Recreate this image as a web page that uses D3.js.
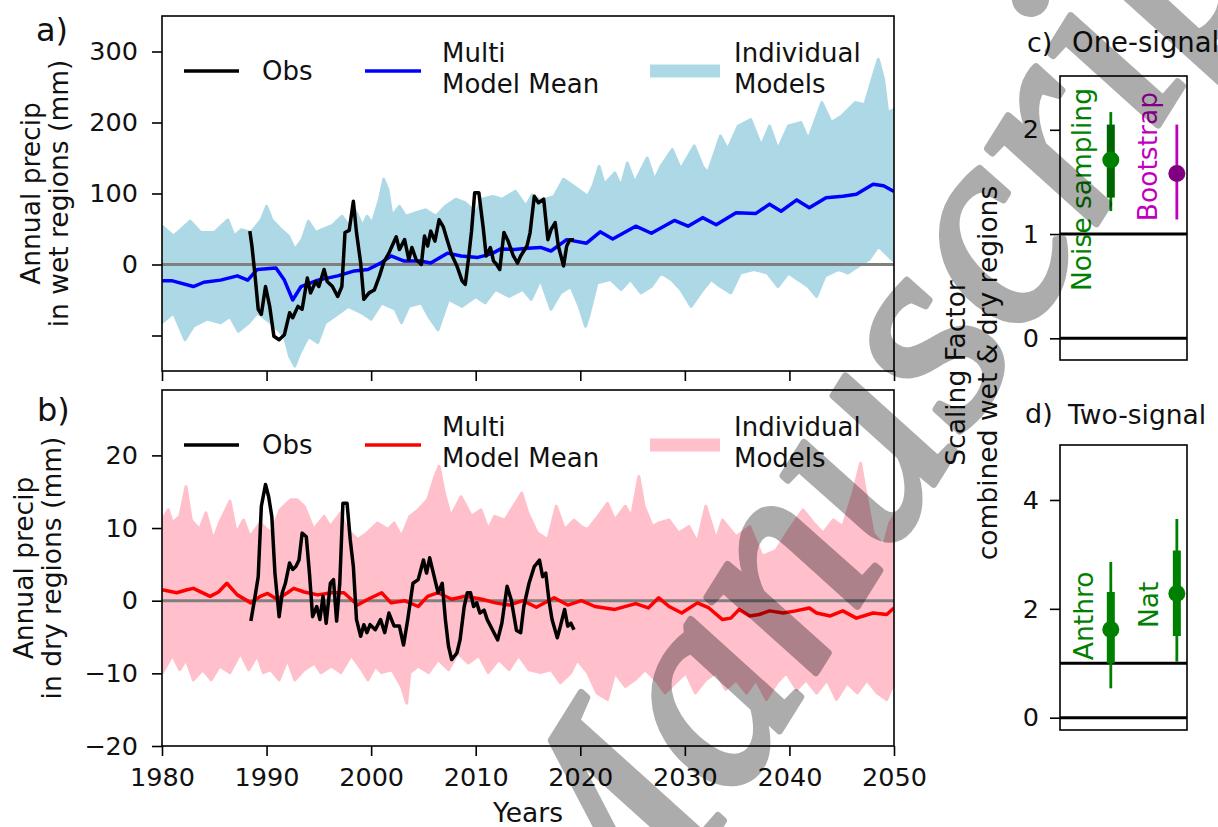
<!DOCTYPE html>
<html><head><meta charset="utf-8">
<script src="https://cdn.jsdelivr.net/npm/d3@7/dist/d3.min.js"></script>
<style>html,body{margin:0;padding:0;background:#fff;} svg{display:block;}</style>
</head><body>
<script>
// ---------------- DATA ----------------
const xTicks = [1980, 1990, 2000, 2010, 2020, 2030, 2040, 2050];
const wetTicks = [-100, 0, 100, 200, 300];
const wetTickLabels = ["", "0", "100", "200", "300"];
const dryTicks = [-20, -10, 0, 10, 20];
const dryTickLabels = ["\u221220", "\u221210", "0", "10", "20"];
const oneTicks = [0, 1, 2];
const twoTicks = [0, 2, 4];

// observed wet-region precip anomaly [year, mm]
const obsWet = [[1988.4,47],[1988.6,26],[1988.9,-16],[1989.2,-63],[1989.5,-70],[1989.9,-31],[1990.3,-59],[1990.7,-101],[1991.2,-106],[1991.7,-99],[1992.2,-68],[1992.5,-75],[1993.0,-59],[1993.4,-63],[1993.9,-19],[1994.2,-40],[1994.7,-24],[1995.0,-31],[1995.5,-7],[1995.8,-24],[1996.3,-31],[1996.8,-45],[1997.2,-31],[1997.5,45],[1997.9,48],[1998.3,89],[1998.6,45],[1999.0,2],[1999.3,-49],[1999.8,-40],[2000.3,-36],[2000.8,-16],[2001.2,3],[2001.7,16],[2002.0,26],[2002.4,39],[2002.7,21],[2003.2,35],[2003.6,7],[2003.9,24],[2004.3,7],[2004.8,0],[2005.1,40],[2005.4,26],[2005.7,47],[2006.1,33],[2006.5,63],[2006.9,53],[2007.3,33],[2007.7,14],[2008.2,-2],[2008.7,-23],[2009.0,-28],[2009.3,7],[2009.6,47],[2009.9,101],[2010.3,101],[2010.7,54],[2011.0,12],[2011.4,24],[2011.7,5],[2012.0,0],[2012.3,-7],[2012.7,45],[2013.1,33],[2013.6,12],[2014.0,2],[2014.3,12],[2014.9,26],[2015.2,45],[2015.6,96],[2016.0,87],[2016.5,92],[2016.9,35],[2017.2,49],[2017.6,59],[2017.9,26],[2018.4,-2],[2018.7,26],[2019.0,35],[2019.4,35]];
// multi model mean, wet regions
const mmmWet = [[1980,-23],[1981,-23],[1983,-31],[1984,-25],[1985.6,-22],[1987.2,-16],[1988.2,-22],[1989.1,-7],[1990.9,-5],[1991.7,-22],[1992.5,-50],[1993.3,-31],[1994.9,-22],[1996.8,-16],[1998.4,-9],[1999.7,-7],[2000.9,2],[2001.9,12],[2003.1,5],[2004.7,5],[2005.7,2],[2007.3,16],[2008.6,12],[2010.2,10],[2011.5,15],[2012.4,22],[2013.7,21],[2015,23],[2016.2,24],[2017.2,19],[2018.7,35],[2020.6,30],[2021.9,46],[2023.1,36],[2025.3,54],[2026.8,44],[2029,62],[2030.3,54],[2031.7,66],[2033,56],[2034.9,73],[2036.8,72],[2038.1,85],[2039.2,75],[2040.7,91],[2041.9,80],[2043.5,94],[2045.1,96],[2046.4,99],[2048,113],[2049,111],[2050,103]];
// individual models, wet regions: upper and lower edge of the model spread
const wetModelsHigh = [[1980,54],[1981.1,40],[1982.7,61],[1983.7,45],[1985,45],[1986.3,63],[1986.9,40],[1987.6,49],[1988.5,45],[1989.5,63],[1990,82],[1990.5,63],[1991.4,49],[1992.1,40],[1992.7,21],[1993.4,35],[1994,61],[1994.7,45],[1995.3,49],[1996.3,55],[1997.2,68],[1997.9,54],[1998.5,75],[1999.2,54],[1999.6,68],[2000.1,58],[2000.8,92],[2001.2,120],[2001.6,106],[2002,68],[2002.7,82],[2003.3,68],[2004.3,73],[2005.2,77],[2006.2,68],[2007.1,82],[2008.1,92],[2009,87],[2010,73],[2010.6,92],[2011.6,96],[2012.5,92],[2013.8,103],[2014.8,82],[2015.4,98],[2016.2,90],[2017.5,96],[2018.4,120],[2019.4,110],[2020.7,96],[2021.2,110],[2021.8,138],[2022.3,113],[2023.3,129],[2023.9,110],[2024.5,143],[2025.2,115],[2026.4,150],[2027.1,119],[2027.7,138],[2028.8,162],[2029.6,134],[2030.9,167],[2031.7,138],[2032.2,129],[2033.4,181],[2034.1,162],[2035.1,195],[2036.3,204],[2037.3,167],[2038.1,195],[2038.9,162],[2039.9,195],[2041.1,200],[2041.8,176],[2043.1,228],[2044,200],[2045,209],[2046.3,228],[2047.2,225],[2048,265],[2048.5,289],[2049,261],[2049.4,214],[2050,218]];
const wetModelsLow = [[1980,-82],[1981.1,-68],[1982.2,-106],[1983,-87],[1984.3,-77],[1985.6,-82],[1986.5,-73],[1987.3,-94],[1988.3,-82],[1989.1,-68],[1990.4,-82],[1991.7,-101],[1992.2,-129],[1992.7,-143],[1993.2,-124],[1994,-101],[1994.9,-110],[1995.6,-82],[1996.5,-73],[1997.8,-59],[1999.1,-68],[2000,-77],[2001,-54],[2002.3,-63],[2002.9,-82],[2003.6,-59],[2004.8,-54],[2005.5,-73],[2006.4,-92],[2007.4,-49],[2008.7,-59],[2010,-45],[2010.9,-54],[2011.9,-35],[2013.2,-45],[2014.5,-35],[2015.3,-49],[2016.2,-21],[2017.2,-63],[2018.1,-40],[2019.1,-31],[2019.9,-59],[2020.5,-87],[2020.8,-73],[2021.6,-26],[2022.9,-21],[2023.9,-35],[2024.8,-21],[2025.8,-40],[2026.8,-31],[2027.7,-12],[2028.7,-21],[2029.6,-35],[2030.6,-59],[2031.5,-40],[2032.5,-21],[2033.4,-31],[2034.4,-40],[2035.3,-12],[2036.6,-7],[2037.9,-12],[2038.9,-31],[2039.9,-12],[2040.8,-21],[2041.8,-31],[2042.6,-45],[2043.4,-16],[2044.7,-7],[2045.6,-12],[2046.6,-2],[2047.6,7],[2048.5,26],[2049.2,16],[2049.8,7],[2050,5]];

// observed dry-region precip anomaly [year, mm]
const obsDry = [[1988.5,-2.8],[1988.9,0.6],[1989.2,3.3],[1989.5,13],[1989.9,16],[1990.2,14.3],[1990.5,11.6],[1990.8,3.8],[1991.2,-2.2],[1991.5,1.1],[1991.8,2.4],[1992.2,5.2],[1992.5,4.3],[1992.8,4.7],[1993.1,5.6],[1993.4,9.3],[1993.8,8.8],[1994.1,3.8],[1994.4,-2.2],[1994.8,-0.8],[1995.1,-2.6],[1995.4,0.6],[1995.7,-3.1],[1996.1,2.4],[1996.4,2.9],[1996.7,-2.8],[1997,2.4],[1997.3,13.4],[1997.7,13.4],[1998,8.4],[1998.3,4.7],[1998.6,-2.6],[1999,-4.9],[1999.3,-3.3],[1999.6,-4.4],[1999.9,-3.3],[2000.4,-4],[2000.9,-2.6],[2001.3,-4.4],[2001.7,-1.7],[2002.2,-3.5],[2002.7,-3.5],[2003.1,-6.1],[2003.5,-2.6],[2004,2.4],[2004.5,2.9],[2005,5.6],[2005.3,3.8],[2005.6,5.9],[2006.1,2.9],[2006.4,1.1],[2006.8,2.4],[2007.1,-2.6],[2007.4,-6.3],[2007.7,-8.1],[2008.2,-7.2],[2008.5,-5.4],[2008.9,-0.8],[2009.2,1.1],[2009.5,1.1],[2009.8,-0.8],[2010.1,-0.3],[2010.4,-1.7],[2010.8,-1.3],[2011.1,-2.6],[2011.6,-4],[2012.1,-5.4],[2012.5,-3.1],[2013,2],[2013.4,0.1],[2013.9,-4.1],[2014.3,-4.4],[2014.6,-0.8],[2015.1,2.4],[2015.6,4.7],[2016.1,5.6],[2016.4,3.3],[2016.7,3.8],[2017,0.1],[2017.3,-2.6],[2017.8,-5.1],[2018.1,-3.5],[2018.5,-1.2],[2018.8,-3.5],[2019.1,-3.1],[2019.4,-4]];
const mmmDry = [[1980,1.5],[1981.4,1.1],[1982.4,1.5],[1983,1.7],[1984.6,0.6],[1985.4,1.2],[1986.2,2.4],[1987.2,0.8],[1988.5,-0.3],[1989.4,0.6],[1990.1,1],[1991,0.2],[1992,1.1],[1992.6,1.7],[1993.6,1.2],[1994.9,0.8],[1996.2,1.1],[1997.4,1.1],[1998.7,-0.6],[1999.7,0.2],[2001,1.1],[2001.9,-0.3],[2003.2,0],[2004.5,-0.8],[2005.4,0.6],[2006.4,1.1],[2007.7,0.2],[2009,0.6],[2010.6,0.2],[2011.9,-0.3],[2013.2,-0.6],[2014.5,0],[2015.8,-0.9],[2017.5,0.4],[2018.8,-0.6],[2020.1,0],[2021.4,-0.8],[2023.3,-1.2],[2025.3,-0.4],[2026.5,-1],[2027.5,0.4],[2028.5,-0.8],[2029.7,-1.7],[2031.2,-0.3],[2032.3,-1],[2033.6,-2.6],[2034.4,-2.4],[2035.2,-1.2],[2036.2,-2.1],[2037.1,-1.9],[2038.1,-1.4],[2039.4,-1.7],[2040.6,-1.4],[2041.9,-1],[2042.6,-1.7],[2043.9,-2.1],[2045.1,-1.4],[2046.4,-2.4],[2048,-1.7],[2049.3,-1.9],[2050,-1]];
const dryModelsHigh = [[1980,11.1],[1980.6,12.5],[1981,10.7],[1981.7,11.6],[1982.3,15.7],[1982.8,11.1],[1983.6,9.8],[1984.2,12.1],[1984.9,8.4],[1985.5,10.7],[1986.5,13.7],[1987.1,9.3],[1987.8,11.1],[1988.4,8.8],[1989.4,10.7],[1990.4,9.3],[1991.3,12.5],[1992.3,13.9],[1992.9,13.9],[1993.6,13],[1994.5,9.8],[1995.5,11.6],[1996.1,10.2],[1997.1,12.1],[1997.7,9.8],[1998.7,8.4],[1999.6,9.3],[2000.6,10.7],[2001.6,9.8],[2002.2,10.7],[2002.9,8.8],[2003.7,11.6],[2004.5,12.5],[2005.4,13.9],[2006.1,17.1],[2006.5,18.5],[2007,14.8],[2007.6,11.6],[2008.6,14.3],[2009.6,11.6],[2010.5,12.5],[2011.2,9.8],[2011.8,11.6],[2012.8,11.1],[2013.4,12.5],[2014.4,14.8],[2015,12],[2015.9,9.3],[2016.9,8.4],[2017.7,13],[2018.5,9.8],[2019.4,11.1],[2020.1,10.2],[2020.7,9.8],[2021.7,11.6],[2022.6,13.4],[2023.3,11.1],[2024.3,13],[2024.9,11.6],[2025.6,17.1],[2026.1,13],[2026.9,10.2],[2027.5,10.7],[2028.5,11.1],[2029.4,9.3],[2030.4,10.2],[2031.2,8],[2032,13],[2033,8.4],[2033.6,11.1],[2034.9,8.8],[2036.2,10.2],[2037.4,6.1],[2038.7,6.9],[2040,9.8],[2041.3,12.5],[2042.3,10.7],[2043.2,9.3],[2044.2,11.1],[2045.1,10.2],[2046.1,14.8],[2046.8,18.9],[2047.2,15.6],[2048,9.3],[2049,7.5],[2049.6,10.7],[2050,11.6]];
const dryModelsLow = [[1980,-10],[1980.4,-9],[1981,-7.5],[1981.7,-9.5],[1982.3,-8.1],[1983,-10.9],[1983.9,-9.5],[1984.7,-10.9],[1985.5,-9],[1986.5,-9.9],[1987.5,-7.2],[1988.3,-9.5],[1989.1,-7.5],[1989.7,-9.9],[1990.4,-9.5],[1991.2,-10.9],[1992,-8.1],[1992.7,-10.9],[1993.6,-9.5],[1994.6,-8.6],[1995.2,-9.9],[1996.2,-9],[1997.1,-9.9],[1998.1,-7.5],[1999.1,-9.5],[1999.7,-10.9],[2000.4,-9],[2001,-9.9],[2002,-9.5],[2002.9,-11.8],[2003.4,-14.1],[2003.7,-9.9],[2004.5,-9],[2005.5,-9.9],[2006.4,-8.1],[2007.4,-9.5],[2008.3,-7.2],[2009.3,-8.6],[2010.3,-7.5],[2011.2,-9.9],[2012.2,-8.1],[2013.2,-9.5],[2014.1,-7.5],[2015.1,-9.5],[2016.2,-9.9],[2017.2,-9.5],[2018.1,-11.3],[2019.1,-9.9],[2019.7,-8.1],[2020.7,-9.9],[2021.6,-12.7],[2022.6,-13.6],[2023.3,-9.9],[2024.3,-11.8],[2025.2,-10.9],[2026.2,-9.5],[2027.2,-10.9],[2028.1,-12.7],[2029.1,-11.3],[2030.1,-9.9],[2031,-12.7],[2032,-10.9],[2033,-9.9],[2033.9,-12.2],[2034.9,-10.9],[2035.9,-12.7],[2036.8,-10.9],[2037.8,-13.6],[2038.8,-11.3],[2039.7,-9.9],[2040.7,-12.2],[2041.6,-10.9],[2042.6,-12.7],[2043.6,-10.9],[2044.5,-13.6],[2045.5,-11.3],[2046.5,-12.7],[2047.4,-10.9],[2048.4,-12.7],[2049.3,-13.6],[2050,-11.3]];

// scaling factors: [position, best, lo66, hi66, lo90, hi90]
const oneSignalNames = ["Noise sampling", "Bootstrap"];
const oneSignal = [[1.0, 1.71, 1.35, 2.05, 1.22, 2.17], [2.3, 1.58, null, null, 1.14, 2.05]];
const twoSignalNames = ["Anthro", "Nat"];
const twoSignal = [[1.0, 1.62, 1.0, 2.31, 0.54, 2.86], [2.3, 2.28, 1.5, 3.07, 1.03, 3.65]];

// ---------------- DRAWING ----------------
const FONT = "DejaVu Sans";
const TICK_FS = 25.5, LEG_FS = 26, LAB_FS = 26.5;
const W = 1218, H = 827;
const svg = d3.select("body").append("svg").attr("width", W).attr("height", H);
svg.append("rect").attr("width", W).attr("height", H).attr("fill", "#fff");

const x = d3.scaleLinear().domain([1980, 2050]).range([162, 894]);
const yWet = d3.scaleLinear().domain([-150, 350]).range([371, 16]);
const yDry = d3.scaleLinear().domain([-20, 29]).range([746, 390]);

function styleAxis(g, fs) {
  g.select(".domain").remove();
  g.selectAll(".tick line").attr("stroke", "#000").attr("stroke-width", 1.6);
  g.selectAll(".tick text").attr("font-family", FONT).attr("font-size", fs).attr("fill", "#111");
}

function drawPanel(y, modelsHigh, modelsLow, mmm, obs, bandColor, mmmColor, yTicks, yLabels, showX, clipId) {
  const top = y.range()[1], bot = y.range()[0];
  svg.append("clipPath").attr("id", clipId).append("rect")
    .attr("x", 162).attr("y", top).attr("width", 894 - 162).attr("height", bot - top);
  const g = svg.append("g").attr("clip-path", `url(#${clipId})`);
  const years = Array.from(new Set(modelsHigh.map(d => d[0]).concat(modelsLow.map(d => d[0])))).sort((a, b) => a - b);
  const interp = (arr, t) => {
    const i = d3.bisector(d => d[0]).left(arr, t);
    if (i <= 0) return arr[0][1];
    if (i >= arr.length) return arr[arr.length - 1][1];
    const a = arr[i - 1], b = arr[i];
    return a[1] + (b[1] - a[1]) * (t - a[0]) / (b[0] - a[0]);
  };
  const area = d3.area().x(t => x(t)).y0(t => y(interp(modelsLow, t))).y1(t => y(interp(modelsHigh, t)));
  g.append("path").attr("d", area(years)).attr("fill", bandColor)
    .attr("stroke", bandColor).attr("stroke-width", 3).attr("stroke-linejoin", "round");
  g.append("line").attr("x1", x(1980)).attr("x2", x(2050)).attr("y1", y(0)).attr("y2", y(0))
    .attr("stroke", "#808080").attr("stroke-width", 3);
  const line = d3.line().x(d => x(d[0])).y(d => y(d[1]));
  g.append("path").attr("d", line(mmm)).attr("fill", "none").attr("stroke", mmmColor)
    .attr("stroke-width", 3.5).attr("stroke-linejoin", "round");
  g.append("path").attr("d", line(obs)).attr("fill", "none").attr("stroke", "#000")
    .attr("stroke-width", 3.5).attr("stroke-linejoin", "round");
  svg.append("rect").attr("x", 162).attr("y", top).attr("width", 894 - 162).attr("height", bot - top)
    .attr("fill", "none").attr("stroke", "#000").attr("stroke-width", 1.6);
  const ya = svg.append("g").attr("transform", "translate(162,0)")
    .call(d3.axisLeft(y).tickValues(yTicks).tickSize(10).tickPadding(14).tickFormat((d, i) => yLabels[i]));
  styleAxis(ya, TICK_FS);
  const xa = svg.append("g").attr("transform", `translate(0,${bot})`)
    .call(d3.axisBottom(x).tickValues(xTicks).tickSize(10).tickPadding(12).tickFormat(showX ? d3.format("d") : () => ""));
  styleAxis(xa, TICK_FS);
}

drawPanel(yWet, wetModelsHigh, wetModelsLow, mmmWet, obsWet, "#add8e6", "#0000ff", wetTicks, wetTickLabels, false, "clipA");
drawPanel(yDry, dryModelsHigh, dryModelsLow, mmmDry, obsDry, "#ffc0cb", "#ff0000", dryTicks, dryTickLabels, true, "clipB");

function legend(top, mmmColor, bandColor) {
  const g = svg.append("g").attr("font-family", FONT).attr("font-size", LEG_FS).attr("fill", "#111");
  g.append("line").attr("x1", 184).attr("x2", 239).attr("y1", top + 55).attr("y2", top + 55).attr("stroke", "#000").attr("stroke-width", 3.5);
  g.append("text").attr("x", 262).attr("y", top + 63.5).text("Obs");
  g.append("line").attr("x1", 365).attr("x2", 421).attr("y1", top + 55).attr("y2", top + 55).attr("stroke", mmmColor).attr("stroke-width", 3.5);
  g.append("text").attr("x", 442).attr("y", top + 46).text("Multi");
  g.append("text").attr("x", 442).attr("y", top + 77).text("Model Mean");
  g.append("rect").attr("x", 650).attr("y", top + 48.5).attr("width", 70).attr("height", 13).attr("fill", bandColor);
  g.append("text").attr("x", 734).attr("y", top + 46).text("Individual");
  g.append("text").attr("x", 734).attr("y", top + 77).text("Models");
}
legend(16, "#0000ff", "#add8e6");
legend(390, "#ff0000", "#ffc0cb");

const lab = (t, xx, yy, fs, anchor, rot, color) => {
  const tx = svg.append("text").attr("font-family", FONT).attr("font-size", fs)
    .attr("fill", color || "#111").attr("text-anchor", anchor || "start").text(t);
  if (rot) tx.attr("transform", `translate(${xx},${yy}) rotate(${rot})`);
  else tx.attr("x", xx).attr("y", yy);
  return tx;
};
lab("a)", 36, 41, 32);
lab("b)", 37, 421, 32);
lab("Annual precip", 40, 193.5, LAB_FS, "middle", -90);
lab("in wet regions (mm)", 68, 193.5, LAB_FS, "middle", -90);
lab("Annual precip", 32.5, 568, LAB_FS, "middle", -90);
lab("in dry regions (mm)", 61, 568, LAB_FS, "middle", -90);
lab("Years", 528, 822, LAB_FS, "middle");

// ---------------- scaling factor panels ----------------
const xs = d3.scaleLinear().domain([0, 2.5]).range([1060, 1187]);
const yOne = d3.scaleLinear().domain([-0.208, 2.516]).range([360, 76]);
const yTwo = d3.scaleLinear().domain([-0.226, 5.01]).range([730, 445]);

function sfPanel(y, ticks, data, colors66, colors90, dotColors) {
  const top = y.range()[1], bot = y.range()[0];
  [0, 1].forEach(v => svg.append("line").attr("x1", 1060).attr("x2", 1187).attr("y1", y(v)).attr("y2", y(v))
    .attr("stroke", "#000").attr("stroke-width", 3));
  data.forEach((d, i) => {
    const cx = xs(d[0]);
    svg.append("line").attr("x1", cx).attr("x2", cx).attr("y1", y(d[4])).attr("y2", y(d[5]))
      .attr("stroke", colors90[i]).attr("stroke-width", 2.8);
    if (d[2] !== null) svg.append("line").attr("x1", cx).attr("x2", cx).attr("y1", y(d[2])).attr("y2", y(d[3]))
      .attr("stroke", colors66[i]).attr("stroke-width", 8);
    svg.append("circle").attr("cx", cx).attr("cy", y(d[1])).attr("r", 8.5).attr("fill", dotColors[i]);
  });
  svg.append("rect").attr("x", 1060).attr("y", top).attr("width", 127).attr("height", bot - top)
    .attr("fill", "none").attr("stroke", "#000").attr("stroke-width", 1.6);
  const ya = svg.append("g").attr("transform", "translate(1060,0)")
    .call(d3.axisLeft(y).tickValues(ticks).tickSize(10).tickPadding(11).tickFormat(d3.format("d")));
  styleAxis(ya, TICK_FS);
}
sfPanel(yOne, oneTicks, oneSignal, ["#006400", null], ["#008000", "#bf00bf"], ["#008000", "#800080"]);
sfPanel(yTwo, twoTicks, twoSignal, ["#008000", "#008000"], ["#008000", "#008000"], ["#008000", "#008000"]);

lab(oneSignalNames[0], 1091, 88, LAB_FS, "end", -90, "#008000");
lab(oneSignalNames[1], 1156.5, 92, LAB_FS, "end", -90, "#bf00bf");
lab(twoSignalNames[0], 1092.5, 571.5, LAB_FS, "end", -90, "#008000");
lab(twoSignalNames[1], 1158, 581.5, LAB_FS, "end", -90, "#008000");

lab("c)", 1027, 52, 27);
lab("One-signal", 1072, 52, 27.5);
lab("d)", 1025, 423, 27);
lab("Two-signal", 1068, 424, LAB_FS);
lab("Scaling Factor", 964.5, 373, LAB_FS, "middle", -90);
lab("combined wet & dry regions", 997, 373, LAB_FS, "middle", -90);

// watermark
svg.append("g").attr("opacity", 0.32)
  .append("text").attr("transform", "translate(607,1007) rotate(-58)")
  .attr("font-family", "Liberation Serif").attr("font-style", "italic")
  .attr("font-size", 288).attr("fill", "#000").attr("stroke", "#000").attr("stroke-width", 7)
  .attr("stroke-linejoin", "round").text("Manuscript");
</script>
</body></html>
